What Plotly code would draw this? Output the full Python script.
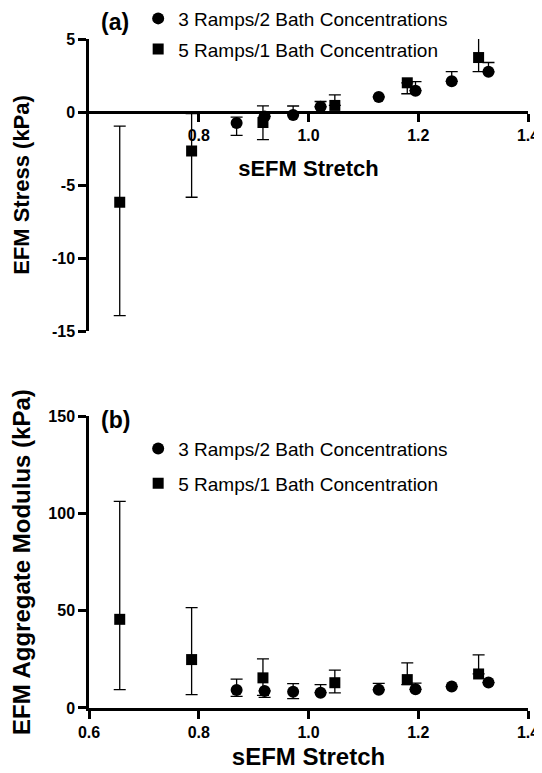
import plotly.graph_objects as go

# ---------------- data ----------------
stretch_3r = [0.869, 0.920, 0.972, 1.022, 1.128, 1.195, 1.261, 1.328]
stress_3r = [-0.75, -0.30, -0.20, 0.36, 1.03, 1.46, 2.10, 2.75]
stress_3r_upper = [-0.35, -0.30, 0.41, 0.72, 1.03, 2.08, 2.76, 3.39]
stress_3r_lower = [-1.60, -0.30, -0.20, 0.36, 1.03, 1.46, 2.10, 2.75]
modulus_3r = [9.2, 8.8, 8.3, 7.9, 9.4, 9.6, 11.0, 13.1]
modulus_3r_upper = [14.9, 8.8, 12.5, 12.0, 12.7, 12.8, 11.0, 13.1]
modulus_3r_lower = [6.0, 5.5, 4.8, 7.9, 9.4, 9.6, 11.0, 13.1]

stretch_5r = [0.656, 0.787, 0.917, 1.048, 1.180, 1.310]
stress_5r = [-6.18, -2.67, -0.72, 0.45, 2.00, 3.73]
stress_5r_upper = [-0.97, -0.11, 0.42, 1.17, 2.00, 5.15]
stress_5r_lower = [-13.95, -5.84, -1.89, 0.45, 1.25, 2.76]
modulus_5r = [45.6, 24.9, 15.5, 13.0, 14.6, 17.5]
modulus_5r_upper = [106.3, 51.6, 25.3, 19.5, 23.2, 27.3]
modulus_5r_lower = [9.5, 6.9, 6.5, 7.8, 12.0, 17.5]

series_names = ["3 Ramps/2 Bath Concentrations", "5 Ramps/1 Bath Concentration"]
x_ticks_top = [0.8, 1.0, 1.2, 1.4]
x_ticks_bottom = [0.6, 0.8, 1.0, 1.2, 1.4]
stress_ticks = [-15, -10, -5, 0, 5]
modulus_ticks = [0, 50, 100, 150]
x_range = [0.6, 1.4]
stress_range = [-15, 5]
modulus_range = [0, 150]

# ---------------- styling ----------------
FONT = "Liberation Sans, Arial, Helvetica, sans-serif"
BLACK = "#000000"
top_domain = [0.5635, 1.0]
bot_domain = [0.0, 0.436]


def err(vals, upper, lower):
    plus = [u - v for u, v in zip(upper, vals)]
    minus = [v - l for v, l in zip(vals, lower)]
    return plus, minus


def err_style(vals, upper, lower, w):
    plus, minus = err(vals, upper, lower)
    return dict(type="data", symmetric=False, array=plus, arrayminus=minus,
                color=BLACK, thickness=1.3, width=w)


fig = go.Figure()

# top panel
fig.add_trace(go.Scatter(
    x=stretch_3r, y=stress_3r, mode="markers", name=series_names[0],
    marker=dict(symbol="circle", size=12, color=BLACK),
    error_y=err_style(stress_3r, stress_3r_upper, stress_3r_lower, 6),
    xaxis="x", yaxis="y", legend="legend", legendgroup="a1"))
fig.add_trace(go.Scatter(
    x=stretch_5r, y=stress_5r, mode="markers", name=series_names[1],
    marker=dict(symbol="square", size=11, color=BLACK),
    error_y=err_style(stress_5r, stress_5r_upper, stress_5r_lower, 6),
    xaxis="x", yaxis="y", legend="legend", legendgroup="a2"))

# bottom panel
fig.add_trace(go.Scatter(
    x=stretch_3r, y=modulus_3r, mode="markers", name=series_names[0],
    marker=dict(symbol="circle", size=12, color=BLACK),
    error_y=err_style(modulus_3r, modulus_3r_upper, modulus_3r_lower, 6),
    xaxis="x2", yaxis="y2", legend="legend2", legendgroup="b1"))
fig.add_trace(go.Scatter(
    x=stretch_5r, y=modulus_5r, mode="markers", name=series_names[1],
    marker=dict(symbol="square", size=11, color=BLACK),
    error_y=err_style(modulus_5r, modulus_5r_upper, modulus_5r_lower, 6),
    xaxis="x2", yaxis="y2", legend="legend2", legendgroup="b2"))

tick_font = dict(family=FONT, size=16, color=BLACK, weight="bold")
title_font_top = dict(family=FONT, size=22, color=BLACK, weight="bold")
title_font_bot = dict(family=FONT, size=24, color=BLACK, weight="bold")
legend_font = dict(family=FONT, size=19, color=BLACK)
axis_common = dict(showgrid=False, zeroline=False, showline=True, linecolor=BLACK,
                   linewidth=2.5, ticks="outside", ticklen=8, tickwidth=2.5,
                   tickcolor=BLACK, tickfont=tick_font, automargin=False)

# position of the top x axis at stress = 0
zero_pos = top_domain[0] + (0 - stress_range[0]) / (stress_range[1] - stress_range[0]) * (top_domain[1] - top_domain[0])

fig.update_layout(
    width=534, height=765,
    margin=dict(l=81, r=14, t=31, b=65, autoexpand=False),
    paper_bgcolor="white", plot_bgcolor="white",
    font=dict(family=FONT, color=BLACK),
    xaxis=dict(domain=[0, 1], range=x_range, anchor="free", position=zero_pos,
               tickvals=x_ticks_top, ticktext=[f"{v:.1f}" for v in x_ticks_top],
               title=dict(text="sEFM Stretch", font=title_font_top, standoff=17),
               **axis_common),
    yaxis=dict(domain=top_domain, range=stress_range, anchor="x",
               tickvals=stress_ticks, ticktext=[str(v) for v in stress_ticks],
               title=dict(text="EFM Stress (kPa)", font=title_font_top, standoff=17),
               **axis_common),
    xaxis2=dict(domain=[0, 1], range=x_range, anchor="y2",
                tickvals=x_ticks_bottom, ticktext=[f"{v:.1f}" for v in x_ticks_bottom],
                title=dict(text="sEFM Stretch", font=title_font_bot, standoff=9),
                **axis_common),
    yaxis2=dict(domain=bot_domain, range=modulus_range, anchor="x2",
                tickvals=modulus_ticks, ticktext=[str(v) for v in modulus_ticks],
                title=dict(text="EFM Aggregate Modulus (kPa)", font=title_font_bot, standoff=15),
                **axis_common),
    legend=dict(x=0.112, y=1.059, xanchor="left", yanchor="top",
                font=legend_font, bgcolor="rgba(0,0,0,0)", tracegroupgap=3),
    legend2=dict(x=0.112, y=0.416, xanchor="left", yanchor="top",
                 font=legend_font, bgcolor="rgba(0,0,0,0)", tracegroupgap=7),
    annotations=[
        dict(text="(a)", x=0.059, y=1.0254, xref="paper", yref="paper",
             showarrow=False, xanchor="center", yanchor="middle",
             font=dict(family=FONT, size=23, color=BLACK, weight="bold")),
        dict(text="(b)", x=0.061, y=0.430, xref="paper", yref="paper",
             showarrow=False, xanchor="center", yanchor="middle",
             font=dict(family=FONT, size=23, color=BLACK, weight="bold")),
    ],
)

fig.write_html("out.html")
